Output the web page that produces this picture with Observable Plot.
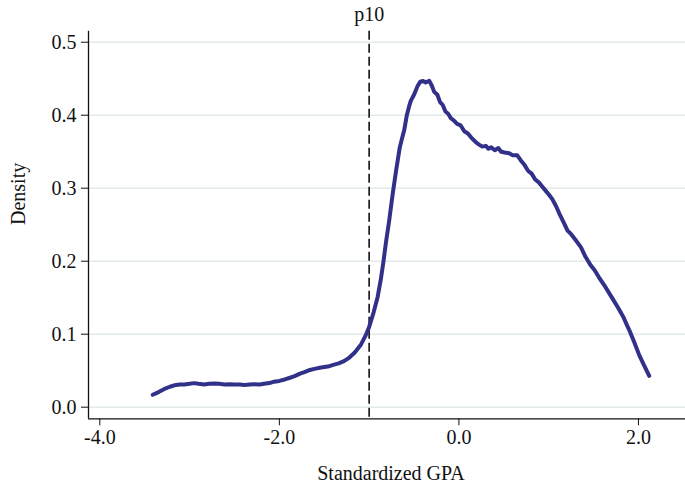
<!DOCTYPE html>
<html>
<head>
<meta charset="utf-8">
<script src="https://cdn.jsdelivr.net/npm/d3@7"></script>
<script src="https://cdn.jsdelivr.net/npm/@observablehq/plot@0.6"></script>
<style>
  html, body { margin: 0; padding: 0; background: #fff; }
  #chart { width: 685px; height: 485px; }
</style>
</head>
<body>
<div id="chart"></div>
<script>
// Standardized GPA (x) and kernel density (y)
const gpa = [
  -3.41, -3.34, -3.28, -3.22, -3.17, -3.11, -3.06, -3.00, -2.95, -2.90,
  -2.84, -2.78, -2.72, -2.67, -2.61, -2.55, -2.50, -2.44, -2.39, -2.33,
  -2.28, -2.22, -2.17, -2.11, -2.06, -2.00, -1.94, -1.89, -1.83, -1.77,
  -1.72, -1.66, -1.61, -1.55, -1.50, -1.46, -1.40, -1.34, -1.28, -1.22,
  -1.16, -1.09, -1.04, -1.00, -0.95, -0.905, -0.87, -0.84, -0.81, -0.776,
  -0.74, -0.70, -0.66, -0.63, -0.61, -0.58, -0.555, -0.535, -0.50, -0.46,
  -0.43, -0.40, -0.37, -0.33, -0.30, -0.275, -0.24, -0.21, -0.18, -0.15,
  -0.12, -0.09, -0.05, -0.02, 0.02, 0.06, 0.10, 0.14, 0.19, 0.22,
  0.26, 0.30, 0.33, 0.36, 0.40, 0.44, 0.47, 0.51, 0.56, 0.60,
  0.65, 0.69, 0.73, 0.77, 0.81, 0.85, 0.89, 0.93, 0.97, 1.01,
  1.04, 1.08, 1.12, 1.16, 1.21, 1.25, 1.30, 1.36, 1.41, 1.47,
  1.51, 1.56, 1.62, 1.67, 1.72, 1.77, 1.83, 1.87, 1.90, 1.95,
  2.01, 2.06, 2.12
];
const density = [
  0.017, 0.021, 0.025, 0.028, 0.030, 0.031, 0.031, 0.032, 0.033, 0.032,
  0.031, 0.032, 0.0325, 0.032, 0.031, 0.0315, 0.031, 0.031, 0.0305, 0.031,
  0.0315, 0.031, 0.032, 0.033, 0.035, 0.036, 0.038, 0.040, 0.0425, 0.046,
  0.048, 0.051, 0.0525, 0.054, 0.055, 0.0557, 0.058, 0.060, 0.063, 0.068,
  0.075, 0.086, 0.098, 0.110, 0.130, 0.151, 0.175, 0.200, 0.228, 0.256,
  0.290, 0.324, 0.355, 0.370, 0.379, 0.400, 0.412, 0.420, 0.428, 0.440,
  0.446, 0.447, 0.445, 0.447, 0.440, 0.432, 0.428, 0.418, 0.414, 0.405,
  0.402, 0.396, 0.392, 0.388, 0.386, 0.378, 0.375, 0.369, 0.363, 0.360,
  0.357, 0.358, 0.354, 0.356, 0.352, 0.355, 0.350, 0.349, 0.348, 0.345,
  0.345, 0.338, 0.332, 0.324, 0.320, 0.312, 0.308, 0.302, 0.296, 0.290,
  0.285, 0.276, 0.265, 0.255, 0.242, 0.237, 0.229, 0.219, 0.206, 0.194,
  0.188, 0.178, 0.167, 0.157, 0.147, 0.137, 0.124, 0.113, 0.105, 0.090,
  0.071, 0.058, 0.043
];
const xTicks = [-4, -2, 0, 2];
const yTicks = [0, 0.1, 0.2, 0.3, 0.4, 0.5];
const p10 = [-1.0];
const p10Label = ["p10"];
const xLabel = ["Standardized GPA"];
const yLabel = ["Density"];

const xDomain = [-4.126, 2.524];
const yDomain = [-0.0159, 0.5151];

const data = gpa.map((x, i) => ({x, y: density[i]}));

const chart = Plot.plot({
  width: 685,
  height: 485,
  marginLeft: 88,
  marginRight: 0,
  marginTop: 30.7,
  marginBottom: 66.7,
  style: {
    fontFamily: "'Liberation Serif', 'Times New Roman', serif",
    fontSize: "20px",
    background: "#fff",
    color: "#111"
  },
  x: {domain: xDomain},
  y: {domain: yDomain},
  marks: [
    Plot.gridY(yTicks, {stroke: "#e3eaea", strokeOpacity: 1, strokeWidth: 1.6}),
    Plot.axisY({ticks: yTicks, tickFormat: d => d.toFixed(1), tickSize: 7, tickPadding: 5, label: null, stroke: "#111", strokeWidth: 1}),
    Plot.axisX({ticks: xTicks, tickFormat: d => d.toFixed(1), tickSize: 7, tickPadding: 4, label: null, stroke: "#111", strokeWidth: 1}),
    Plot.ruleX([xDomain[0]], {stroke: "#111", strokeWidth: 1.3}),
    Plot.ruleY([yDomain[0]], {stroke: "#111", strokeWidth: 1.3}),
    Plot.ruleX(p10, {stroke: "#111", strokeWidth: 1.6, strokeDasharray: "9,4"}),
    Plot.text(p10Label, {x: p10[0], text: d => d, frameAnchor: "top", lineAnchor: "bottom", dy: -10, fill: "#111"}),
    Plot.line(data, {x: "x", y: "y", stroke: "#31318a", strokeWidth: 4, strokeLinejoin: "round", strokeLinecap: "round"}),
    Plot.text(xLabel, {text: d => d, frameAnchor: "bottom", lineAnchor: "bottom", dy: 61, dx: 4, fill: "#111"}),
    Plot.text(yLabel, {text: d => d, frameAnchor: "left", rotate: -90, dx: -70, fill: "#111"})
  ]
});
document.getElementById("chart").appendChild(chart);
</script>
</body>
</html>
